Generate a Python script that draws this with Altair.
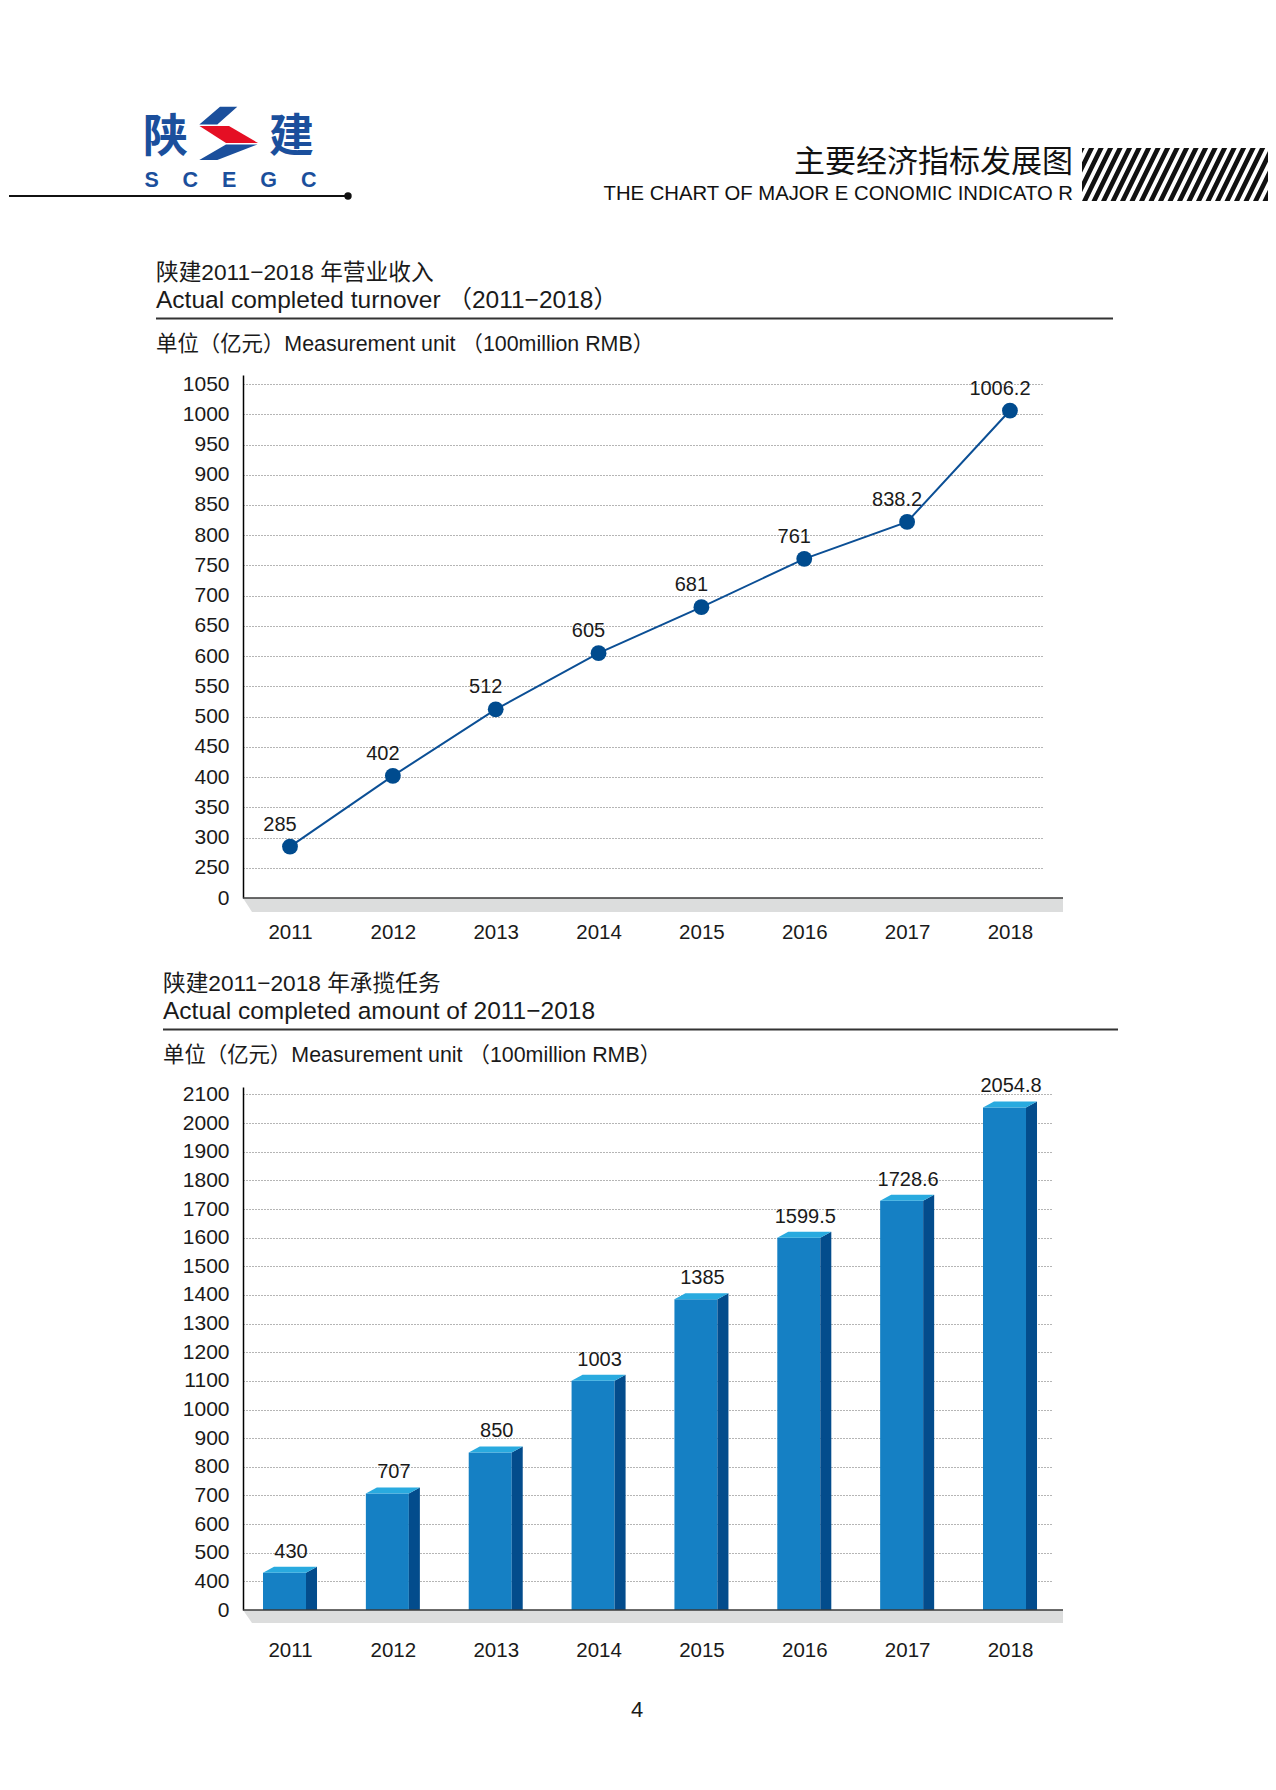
import altair as alt
import pandas as pd

# ---------------- data ----------------
years = [2011, 2012, 2013, 2014, 2015, 2016, 2017, 2018]

# Actual completed turnover (100 million RMB): printed labels, and marker heights as drawn
turnover_labels = [285, 402, 512, 605, 681, 761, 838.2, 1006.2]
turnover_marks = [285, 402, 512, 605, 681, 761, 822, 1006.2]

# Actual completed amount (100 million RMB): printed labels, and bar heights as drawn
amount_labels = [430, 707, 850, 1003, 1385, 1599.5, 1728.6, 2054.8]
amount_bars = [430, 707, 850, 1100, 1385, 1599.5, 1728.6, 2054.8]

# y ticks; the lowest value is the axis break that is printed as "0"
turnover_ticks = [200, 250, 300, 350, 400, 450, 500, 550, 600, 650,
                  700, 750, 800, 850, 900, 950, 1000, 1050]
turnover_break = 200
amount_ticks = [300, 400, 500, 600, 700, 800, 900, 1000, 1100, 1200, 1300,
                1400, 1500, 1600, 1700, 1800, 1900, 2000, 2100]
amount_break = 300

# texts
header_cn = "主要经济指标发展图"
header_en = "THE CHART OF MAJOR E CONOMIC INDICATO R"
logo_left, logo_right = "陕", "建"
logo_letters = "\u00a0\u00a0\u00a0\u00a0".join(["S", "C", "E", "G", "C"])
t1_cn = "陕建2011−2018 年营业收入"
t1_en = "Actual completed turnover （2011−2018）"
unit_text = "单位（亿元）Measurement unit （100million RMB）"
t2_cn = "陕建2011−2018 年承揽任务"
t2_en = "Actual completed amount of 2011−2018"
page_no = "4"

# ---------------- styling / layout ----------------
FONT = "Liberation Sans, Noto Sans CJK SC"
CJK = "Noto Sans CJK SC"
INK = "#1a1a1a"
LOGO_BLUE = "#1B4F9C"
LOGO_RED = "#E50F24"
LINE_BLUE = "#0B4F95"
DOT_BLUE = "#004B8E"
FRONT = "#1580C4"
SIDE = "#034C8C"
TOPF = "#29AADF"
FLOOR = "#DCDDDD"

OX, OY1, OY2 = 243, 375, 1087      # plot origins in page pixels
one = pd.DataFrame({"k": [0]})


def text_at(s, px, py, oy, size, align="left", color=INK, weight="normal", font=FONT):
    return alt.Chart(one).mark_text(
        text=s, align=align, baseline="middle", font=font, fontSize=size,
        fontWeight=weight, color=color
    ).encode(x=alt.value(px - OX), y=alt.value(py - oy))


def hline(px1, px2, py, oy, color=INK, width=2.0):
    return alt.Chart(one).mark_rule(color=color, strokeWidth=width).encode(
        x=alt.value(px1 - OX), x2=alt.value(px2 - OX), y=alt.value(py - oy))


def shape_at(polys, pcx, pcy, oy, half, color):
    parts = []
    for poly in polys:
        coords = " L".join(f"{(x - pcx) / half:.5f},{(y - pcy) / half:.5f}" for x, y in poly)
        parts.append("M" + coords + " Z")
    return alt.Chart(one).mark_point(
        shape=" ".join(parts), size=(2 * half) ** 2, filled=True, color=color,
        opacity=1, strokeWidth=0
    ).encode(x=alt.value(pcx - OX), y=alt.value(pcy - oy))


def clip_x(poly, xmin, xmax):
    def clip(pts, inside, inter):
        out = []
        for i in range(len(pts)):
            cur, prev = pts[i], pts[i - 1]
            if inside(cur):
                if not inside(prev):
                    out.append(inter(prev, cur))
                out.append(cur)
            elif inside(prev):
                out.append(inter(prev, cur))
        return out

    def ix(xc):
        return lambda p, q: (xc, p[1] + (q[1] - p[1]) * (xc - p[0]) / (q[0] - p[0]))

    pts = clip(poly, lambda p: p[0] >= xmin, ix(xmin))
    if pts:
        pts = clip(pts, lambda p: p[0] <= xmax, ix(xmax))
    return pts


# ---------------- header decoration ----------------
logo_polys_blue = [
    [(220, 106.7), (237.3, 106.7), (217.3, 124.5), (199.3, 124.5)],
    [(226, 144.5), (257.5, 144.5), (217.3, 160), (199.3, 160)],
]
logo_polys_red = [[(199.5, 126), (229, 126), (258, 143), (226, 143)]]

stripes = []
sx0, sx1, sy0, sy1 = 1082, 1268, 148, 201
for k in range(-5, 24):
    a = sx0 + k * 9.5
    poly = [(a, sy1), (a + 5.2, sy1), (a + 5.2 + 26, sy0), (a + 26, sy0)]
    c = clip_x(poly, sx0, sx1)
    if len(c) >= 3:
        stripes.append(c)

header_layers = [
    # anchor fixing the page's top-left corner
    alt.Chart(one).mark_rect(fill="white", opacity=1).encode(
        x=alt.value(8 - OX), x2=alt.value(9 - OX), y=alt.value(8 - OY1), y2=alt.value(9 - OY1)),
    text_at(logo_left, 165.5, 137.5, OY1, 45, align="center", color=LOGO_BLUE, weight="bold", font=CJK),
    text_at(logo_right, 291.5, 137.5, OY1, 45, align="center", color=LOGO_BLUE, weight="bold", font=CJK),
    shape_at(logo_polys_blue, 228, 133.3, OY1, 30, LOGO_BLUE),
    shape_at(logo_polys_red, 228, 133.3, OY1, 30, LOGO_RED),
    text_at(logo_letters, 230.4, 181, OY1, 21.5, align="center", color=LOGO_BLUE, weight="bold",
            font="Liberation Sans"),
    hline(9, 348, 196, OY1, color="#111111", width=2),
    alt.Chart(one).mark_circle(size=55, color="#111111", opacity=1).encode(
        x=alt.value(348 - OX), y=alt.value(196 - OY1)),
    text_at(header_cn, 1073, 163, OY1, 31, align="right", color="#111111", font=CJK),
    text_at(header_en, 1073, 194, OY1, 20.3, align="right", color="#111111", font="Liberation Sans"),
    shape_at(stripes, 1175, 174.5, OY1, 93, "#111111"),
    # title block of chart 1
    text_at(t1_cn, 156, 273, OY1, 22.7),
    text_at(t1_en, 156, 301, OY1, 24.5),
    hline(156, 1113, 318.5, OY1, color="#333333", width=2),
    text_at(unit_text, 156, 345, OY1, 21.4),
]

# ---------------- chart 1: line ----------------
x_top = alt.Scale(domain=[2010.543, 2018.331], nice=False, zero=False)
y_top = alt.Scale(domain=[200, 1065], nice=False, zero=False)


def x_axis(pad):
    return alt.Axis(values=years, format="d", title=None, domain=False, ticks=False, grid=False,
                    labelFontSize=20.5, labelFont="Liberation Sans", labelColor=INK,
                    labelPadding=pad, labelOverlap=False, tickCount=40)


def y_axis(ticks, brk):
    return alt.Axis(values=ticks, tickCount=60, format="d", title=None, ticks=False, domain=True,
                    domainColor="#000000", domainWidth=1.5, grid=True, gridColor="#6a6a6a",
                    gridDash=[1, 2], gridWidth=1, labelFontSize=21, labelFont="Liberation Sans",
                    labelColor=INK, labelPadding=14, labelOverlap=False, labelBound=False,
                    labelExpr=f"datum.value == {brk} ? '0' : datum.label")


df_top = pd.DataFrame({"year": years, "value": turnover_marks,
                       "label": [f"{v:g}" for v in turnover_labels]})

floor1 = shape_at([[(243, 898), (1063, 898), (1063, 912), (252, 912)]], 653, 905, OY1, 410, FLOOR)
axis1 = hline(243, 1063, 898, OY1, color="#3a3a3a", width=1.5)

line = alt.Chart(df_top).mark_line(color=LINE_BLUE, strokeWidth=2).encode(
    x=alt.X("year:Q", scale=x_top, axis=x_axis(24), title=None),
    y=alt.Y("value:Q", scale=y_top, axis=y_axis(turnover_ticks, turnover_break), title=None),
)
dots = alt.Chart(df_top).mark_circle(size=250, color=DOT_BLUE, opacity=1).encode(
    x=alt.X("year:Q", title=None), y=alt.Y("value:Q", title=None))
labels1 = alt.Chart(df_top).mark_text(font="Liberation Sans", fontSize=20, color=INK,
                                      dx=-10, dy=-22, baseline="middle").encode(
    x=alt.X("year:Q", title=None), y=alt.Y("value:Q", title=None), text="label:N")

top = alt.layer(line, floor1, axis1, dots, labels1, *header_layers).properties(width=801, height=523)

# ---------------- chart 2: 3D-look bars ----------------
x_bot = alt.Scale(domain=[2010.543, 2018.418], nice=False, zero=False)
y_bot = alt.Scale(domain=[300, 2126], nice=False, zero=False)

fl, fr, dx_side, dv_side = 0.2625, 0.1556, 0.107, 21
front = pd.DataFrame({
    "year": years,
    "x0": [y - fl for y in years],
    "x1": [y + fr for y in years],
    "top": amount_bars,
    "base": [amount_break] * len(years),
    "label": [f"{v:g}" for v in amount_labels],
})
side_rows, top_rows = [], []
for yr, v in zip(years, amount_bars):
    L, R = yr - fl, yr + fr
    side_rows += [{"g": yr, "x": R, "y": v, "y2": amount_break},
                  {"g": yr, "x": R + dx_side, "y": v + dv_side, "y2": amount_break}]
    top_rows += [{"g": yr, "x": L, "y": v, "y2": v},
                 {"g": yr, "x": L + dx_side, "y": v + dv_side, "y2": v},
                 {"g": yr, "x": R, "y": v + dv_side, "y2": v},
                 {"g": yr, "x": R + dx_side, "y": v + dv_side, "y2": v + dv_side}]
side_df = pd.DataFrame(side_rows)
topf_df = pd.DataFrame(top_rows)

bars = alt.Chart(front).mark_rect(color=FRONT).encode(
    x=alt.X("x0:Q", scale=x_bot, axis=x_axis(30), title=None),
    x2="x1:Q",
    y=alt.Y("top:Q", scale=y_bot, axis=y_axis(amount_ticks, amount_break), title=None),
    y2="base:Q",
)
sides = alt.Chart(side_df).mark_area(color=SIDE, opacity=1).encode(
    x=alt.X("x:Q", title=None), y=alt.Y("y:Q", stack=None, title=None), y2="y2:Q", detail="g:N")
tops = alt.Chart(topf_df).mark_area(color=TOPF, opacity=1).encode(
    x=alt.X("x:Q", title=None), y=alt.Y("y:Q", stack=None, title=None), y2="y2:Q", detail="g:N")
labels2 = alt.Chart(front).mark_text(font="Liberation Sans", fontSize=20, color=INK,
                                     dx=1, dy=-21, baseline="middle").encode(
    x=alt.X("year:Q", title=None), y=alt.Y("top:Q", title=None), text="label:N")

floor2 = shape_at([[(243, 1610), (1063, 1610), (1063, 1623), (252, 1623)]], 653, 1616.5, OY2, 410, FLOOR)
axis2 = hline(243, 1063, 1610, OY2, color="#3a3a3a", width=1.5)

bottom_deco = [
    text_at(t2_cn, 163, 984, OY2, 22.7),
    text_at(t2_en, 163, 1012, OY2, 24.5),
    hline(163, 1118, 1029.5, OY2, color="#333333", width=2),
    text_at(unit_text, 163, 1056, OY2, 21.4),
    text_at(page_no, 637, 1710, OY2, 22, align="center"),
]

bottom = alt.layer(bars, floor2, sides, tops, axis2, labels2, *bottom_deco).properties(
    width=810, height=523)

chart = alt.vconcat(top, bottom, spacing=OY2 - OY1 - 523, bounds="flush").properties(
    padding=0, background="white").configure_view(strokeWidth=0)

chart.save("out.html", embed_options={"renderer": "svg", "actions": False})
